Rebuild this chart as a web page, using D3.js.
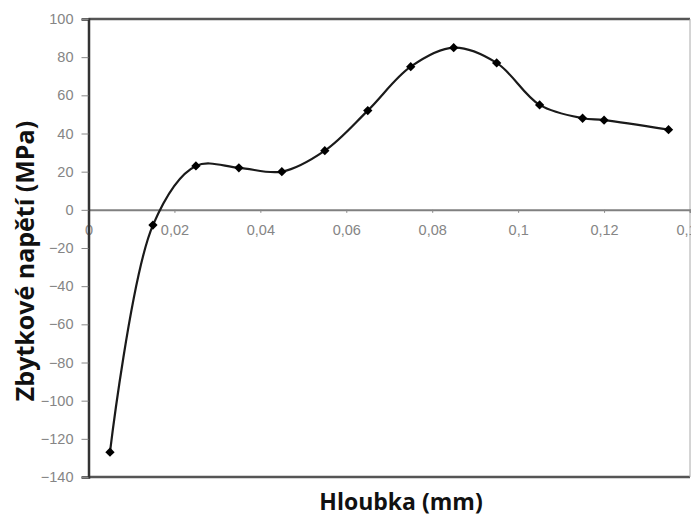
<!DOCTYPE html>
<head>
  <meta charset="utf-8">
  <title>Zbytkové napětí</title>
  <script src="https://d3js.org/d3.v7.min.js"></script>
  <style>
    body { margin: 0; background: #fff; }
    .axis-title { font-family: "Open Sans", sans-serif; font-weight: bold; fill: #111; }
  </style>
</head>
<body>
  <div id="root"></div>
  <script>
    // depth (mm) and residual stress (MPa)
    var depth  = [0.005, 0.015, 0.025, 0.035, 0.045, 0.055, 0.065, 0.075, 0.085, 0.095, 0.105, 0.115, 0.12, 0.135];
    var stress = [-127, -8, 23, 22, 20, 31, 52, 75, 85, 77, 55, 48, 47, 42];
    var xTicks = [0, 0.02, 0.04, 0.06, 0.08, 0.1, 0.12, 0.14];
    var yTicks = [-140, -120, -100, -80, -60, -40, -20, 0, 20, 40, 60, 80, 100];

    var W = 691, H = 517;
    var margin = {top: 19, right: 1, bottom: 40, left: 88.5};
    var width = W - margin.left - margin.right,
        height = 477 - margin.top;

    var svg = d3.select("#root").append("svg")
      .attr("width", W).attr("height", H);
    var g = svg.append("g")
      .attr("transform", "translate(" + margin.left + "," + margin.top + ")");

    var x = d3.scaleLinear().domain([0, 0.14]).range([0, width]);
    var y = d3.scaleLinear().domain([-140, 100]).range([height, 0]);

    // plot frame
    g.append("line").attr("x1", 0).attr("x2", width).attr("y1", 0).attr("y2", 0)
      .attr("stroke", "#555").attr("stroke-width", 2.5);
    g.append("line").attr("x1", 0).attr("x2", width).attr("y1", height).attr("y2", height)
      .attr("stroke", "#555").attr("stroke-width", 2.5);
    g.append("line").attr("x1", width).attr("x2", width).attr("y1", 0).attr("y2", height)
      .attr("stroke", "#aaa").attr("stroke-width", 1);

    function styleTicks(sel) {
      sel.selectAll(".tick text")
        .style("fill", "#858585")
        .style("font-family", "'Liberation Sans', Arial, sans-serif")
        .style("font-size", "14.5px");
      sel.selectAll(".tick line").attr("stroke", "#888");
    }

    // x axis at y = 0
    var fmt = function(d) { return String(d).replace(".", ","); };
    var xAxis = g.append("g")
      .attr("transform", "translate(0," + y(0) + ")")
      .call(d3.axisBottom(x).tickValues(xTicks).tickFormat(fmt).tickSize(3).tickPadding(12));
    xAxis.select(".domain").attr("stroke", "#808080").attr("stroke-width", 2);
    styleTicks(xAxis);

    // y axis
    var yAxis = g.append("g")
      .call(d3.axisLeft(y).tickValues(yTicks).tickSize(7).tickPadding(8));
    yAxis.select(".domain").attr("stroke", "#333").attr("stroke-width", 2.5);
    styleTicks(yAxis);

    // smoothed line
    var pts = depth.map(function(d, i) { return [d, stress[i]]; });
    var line = d3.line()
      .x(function(d) { return x(d[0]); })
      .y(function(d) { return y(d[1]); })
      .curve(d3.curveCatmullRom.alpha(0.5));
    g.append("path").datum(pts)
      .attr("d", line)
      .attr("fill", "none")
      .attr("stroke", "#1a1a1a")
      .attr("stroke-width", 2.2);

    // diamond markers
    g.selectAll(".marker").data(pts).enter().append("path")
      .attr("class", "marker")
      .attr("transform", function(d) { return "translate(" + x(d[0]) + "," + y(d[1]) + ")"; })
      .attr("d", d3.symbol().type(d3.symbolDiamond2).size(55))
      .attr("fill", "#000");

    // axis titles
    svg.append("text").attr("class", "axis-title")
      .attr("x", 401).attr("y", 510)
      .attr("text-anchor", "middle")
      .style("font-size", "23px")
      .text("Hloubka (mm)");
    svg.append("text").attr("class", "axis-title")
      .attr("transform", "translate(34,261) rotate(-90)")
      .attr("text-anchor", "middle")
      .style("font-size", "25px")
      .text("Zbytkové napětí (MPa)");
  </script>
</body>
